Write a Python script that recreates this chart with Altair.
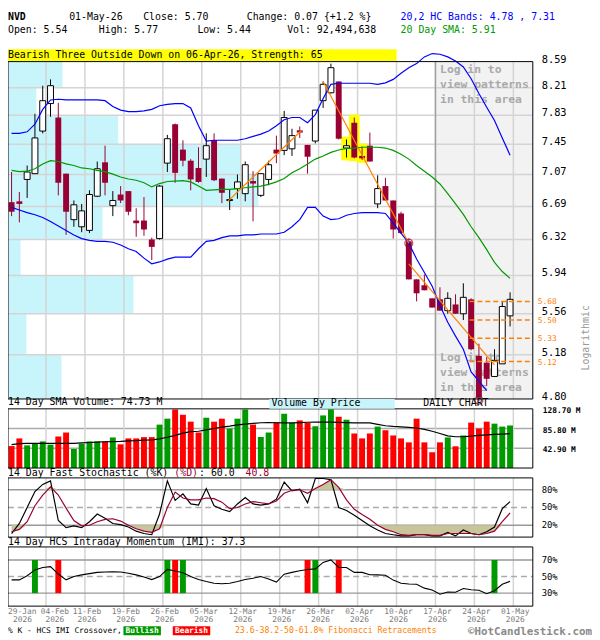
import altair as alt
import pandas as pd

# ---------------- data ----------------
dates = ["2026-01-29", "2026-01-30",
         "2026-02-02", "2026-02-03", "2026-02-04", "2026-02-05", "2026-02-06",
         "2026-02-09", "2026-02-10", "2026-02-11", "2026-02-12", "2026-02-13",
         "2026-02-17", "2026-02-18", "2026-02-19", "2026-02-20",
         "2026-02-23", "2026-02-24", "2026-02-25", "2026-02-26", "2026-02-27",
         "2026-03-02", "2026-03-03", "2026-03-04", "2026-03-05", "2026-03-06",
         "2026-03-09", "2026-03-10", "2026-03-11", "2026-03-12", "2026-03-13",
         "2026-03-16", "2026-03-17", "2026-03-18", "2026-03-19", "2026-03-20",
         "2026-03-23", "2026-03-24", "2026-03-25", "2026-03-26", "2026-03-27",
         "2026-03-30", "2026-03-31", "2026-04-01", "2026-04-02",
         "2026-04-06", "2026-04-07", "2026-04-08", "2026-04-09", "2026-04-10",
         "2026-04-13", "2026-04-14", "2026-04-15", "2026-04-16", "2026-04-17",
         "2026-04-20", "2026-04-21", "2026-04-22", "2026-04-23", "2026-04-24",
         "2026-04-27", "2026-04-28", "2026-04-29", "2026-04-30", "2026-05-01"]

opens = [6.74, 6.75, 7.01, 7.08, 7.62, 7.99, 7.80, 7.08, 6.54, 6.46, 6.42, 6.81, 7.22, 6.70, 6.83, 6.87,
         6.53, 6.53, 6.32, 6.33, 7.21, 7.71, 7.38, 7.24, 7.15, 7.26, 7.50, 7.02, 6.76, 6.90, 6.84, 6.99,
         6.82, 7.01, 7.38, 7.37, 7.39, 7.63, 7.44, 7.49, 8.03, 8.14, 8.30, 7.40, 7.73, 7.30, 7.43, 6.72,
         6.93, 6.76, 6.61, 6.30, 5.90, 5.84, 5.71, 5.70, 5.59, 5.65, 5.56, 5.70, 5.17, 5.11, 4.99, 5.10, 5.54]
highs = [7.10, 6.86, 7.18, 7.85, 8.24, 8.33, 8.00, 7.08, 6.76, 6.72, 6.88, 7.23, 7.43, 6.87, 6.93, 6.87,
         6.67, 6.80, 6.34, 6.94, 7.57, 7.72, 7.50, 7.26, 7.41, 7.59, 7.59, 7.02, 6.89, 7.07, 7.23, 7.11,
         7.08, 7.24, 7.56, 7.89, 7.65, 7.68, 7.44, 7.90, 8.30, 8.56, 8.30, 7.51, 7.80, 7.42, 7.60, 7.06,
         7.03, 6.76, 6.63, 6.33, 5.90, 5.95, 5.71, 5.82, 5.77, 5.75, 5.86, 5.71, 5.28, 5.16, 5.23, 5.68, 5.77]
lows = [6.58, 6.51, 6.79, 7.08, 7.59, 7.81, 6.82, 6.37, 6.46, 6.40, 6.39, 6.80, 6.82, 6.58, 6.73, 6.59,
        6.35, 6.36, 6.10, 6.32, 7.10, 6.97, 7.17, 6.88, 6.97, 7.04, 6.99, 6.73, 6.65, 6.78, 6.75, 6.52,
        6.80, 6.94, 7.21, 7.31, 7.30, 7.53, 7.08, 7.46, 7.93, 8.13, 7.51, 7.28, 7.27, 7.25, 7.23, 6.67,
        6.76, 6.33, 6.38, 5.90, 5.68, 5.79, 5.62, 5.59, 5.56, 5.56, 5.50, 5.22, 4.78, 4.91, 4.99, 5.10, 5.44]
closes = [6.63, 6.72, 7.10, 7.53, 8.03, 8.24, 6.97, 6.63, 6.71, 6.64, 6.83, 7.14, 6.97, 6.76, 6.76, 6.63,
          6.50, 6.43, 6.24, 6.93, 7.52, 7.09, 7.24, 7.01, 6.98, 7.43, 7.00, 6.85, 6.77, 6.98, 7.19, 6.96,
          7.08, 7.19, 7.33, 7.80, 7.56, 7.60, 7.29, 7.90, 8.26, 8.50, 7.52, 7.43, 7.28, 7.27, 7.23, 6.90,
          6.76, 6.43, 6.39, 5.90, 5.76, 5.79, 5.62, 5.59, 5.71, 5.56, 5.72, 5.23, 4.81, 4.97, 5.13, 5.63, 5.70]
volumes_m = [47.8, 64.4, 49.3, 53.6, 57.9, 50.8, 68.6, 77.2, 41.5, 52.9, 57.9, 57.9, 57.9, 66.5, 51.5, 64.4,
             64.4, 67.2, 67.2, 94.4, 107.3, 127.3, 115.8, 100.8, 77.2, 109.4, 100.8, 107.3, 85.8, 107.3,
             127.3, 94.4, 67.2, 77.2, 99.3, 118.0, 98.0, 103.6, 98.0, 90.8, 114.4, 127.3, 111.5, 105.1,
             75.1, 64.4, 75.1, 90.1, 82.2, 70.8, 64.4, 55.8, 107.3, 55.8, 34.3, 55.8, 66.5, 47.2, 70.8,
             98.7, 85.8, 100.8, 96.5, 90.1, 92.5]
volume_sma_m = [51, 53, 53.6, 53.6, 53.6, 53.6, 53.6, 53.6, 53.6, 54.5, 55.5, 56.5, 57.2, 57.5, 58, 59,
                59.5, 60.5, 61, 63.5, 67, 71, 76, 79, 80, 83, 86, 89, 91, 94, 95.5, 97, 98.5, 98.7, 98.5,
                98.2, 98, 98.8, 99.5, 100, 100.1, 99.7, 99.2, 98.7, 98.2, 98, 98, 95, 92, 90.5, 89.5, 88.5,
                87, 84, 80, 75, 70, 68, 68, 69.5, 71, 72, 73, 73.8, 74.73]
band_upper = [7.59, 7.59, 7.61, 7.71, 7.91, 8.04, 8.05, 8.04, 8.04, 8.04, 8.04, 8.04, 8.03, 7.95, 7.90, 7.88,
              7.88, 7.89, 7.91, 7.96, 7.98, 7.99, 7.99, 7.93, 7.69, 7.49, 7.50, 7.50, 7.50, 7.50, 7.52, 7.55,
              7.58, 7.62, 7.69, 7.77, 7.80, 7.80, 7.73, 7.84, 8.06, 8.26, 8.275, 8.275, 8.275, 8.275, 8.275,
              8.26, 8.28, 8.33, 8.42, 8.50, 8.56, 8.66, 8.71, 8.70, 8.66, 8.60, 8.51, 8.34, 8.13, 7.94, 7.76,
              7.53, 7.31]
band_lower = [6.68, 6.65, 6.62, 6.595, 6.565, 6.52, 6.47, 6.42, 6.37, 6.33, 6.31, 6.30, 6.30, 6.29, 6.26, 6.22,
              6.19, 6.12, 6.06, 6.08, 6.11, 6.13, 6.13, 6.13, 6.22, 6.30, 6.31, 6.34, 6.36, 6.36, 6.37, 6.37,
              6.38, 6.38, 6.38, 6.40, 6.46, 6.54, 6.68, 6.68, 6.58, 6.54, 6.55, 6.59, 6.61, 6.62, 6.62, 6.62,
              6.61, 6.50, 6.39, 6.28, 6.11, 5.97, 5.83, 5.64, 5.48, 5.35, 5.23, 5.03, 4.95, 4.87]
sma20 = [7.12, 7.105, 7.11, 7.14, 7.20, 7.24, 7.23, 7.20, 7.18, 7.15, 7.14, 7.12, 7.105, 7.075, 7.04, 7.015,
         7.00, 6.97, 6.92, 6.96, 6.985, 6.99, 6.995, 6.98, 6.93, 6.88, 6.885, 6.89, 6.89, 6.90, 6.91, 6.92,
         6.93, 6.95, 6.98, 7.02, 7.09, 7.14, 7.20, 7.26, 7.30, 7.345, 7.375, 7.395, 7.40, 7.41, 7.41, 7.41,
         7.40, 7.37, 7.32, 7.26, 7.18, 7.11, 7.04, 6.955, 6.84, 6.72, 6.60, 6.46, 6.34, 6.21, 6.075, 5.98, 5.91]
stoch_k = [6, 23, 50, 77, 89, 95, 28, 16, 19, 16, 26, 39, 32, 23, 21, 17, 10, 6, 4, 39, 95, 62, 73, 56, 54,
           82, 53, 47, 43, 56, 67, 56, 54, 56, 64, 93, 78, 81, 58, 99, 99, 97, 50, 45, 37, 28, 19, 12, 6, 4,
           2, 2, 4, 4, 2, 2, 8, 2, 12, 6, 4, 9, 17, 48, 60]
stoch_d = [9, 13, 26, 53, 71, 85, 71, 49, 28, 19, 20, 26, 30, 31, 27, 20, 14, 10, 8, 14, 50, 76, 66, 63, 63,
           66, 65, 59, 48, 50, 56, 60, 58, 56, 61, 74, 79, 80, 74, 82, 89, 97, 84, 63, 47, 38, 30, 20, 13, 9,
           4, 3, 4, 4, 3, 3, 6, 6, 6, 6, 4, 6, 10, 26, 40.8]
imi = [46, 46, 51, 58, 61, 62, 53, 46, 50, 52, 53.5, 55, 55.5, 55.7, 55.5, 54, 52, 49.5, 46.3, 50, 58.6,
       56.6, 54.5, 50, 46.5, 44, 42, 41.4, 42, 44, 46.5, 48, 50, 47, 43.4, 52.9, 55, 57, 58.5, 59.2, 67, 70,
       61, 61, 55, 55, 52.2, 52, 51.5, 45.7, 42, 41, 40.6, 36, 33.7, 28.6, 31.4, 31, 35.5, 34, 33.5, 29.2,
       32.9, 40.6, 44.3]
imi_bullish = [3, 20, 22, 39, 62]
imi_bearish = [6, 21, 38, 42]
pattern_days = [43, 44, 45]
pivot_days = [51, 60]
pivot_prices = [6.28, 4.79]
trend_seg = ["a", "a", "b", "b", "c", "c"]
trend_day = [27.75, 37.25, 40.0, 51.0, 51.0, 62.0]
trend_price = [6.75, 7.63, 8.30, 6.28, 6.06, 5.09]
fib_levels = [5.68, 5.50, 5.33, 5.12]
fib_from_day = 58.8
price_ticks = [8.59, 8.21, 7.83, 7.45, 7.07, 6.69, 6.32, 5.94, 5.56, 5.18, 4.80]
vbp_pct = [10.2, 3.5, 23.9, 2.4, 18.0, 47.7, 44.2, 21.0, 5.4, 10.4]  # lowest price band first
vol_ticks = [128.7, 85.8, 42.9]
stoch_ticks = [80, 50, 20]
imi_ticks = [70, 50, 30]

n = len(closes)
assert all(len(a) == n for a in [dates, opens, highs, lows, volumes_m, volume_sma_m, band_upper, sma20,
                                  stoch_k, stoch_d, imi])

# ---------------- layout ----------------
MONO = "DejaVu Sans Mono"
MAROON = "#990033"
ORANGE = "#ff8000"
W, H = 592, 632
KDOM = [-0.458, 66.92]
XR = [0, 532]
PDOM, PR = [4.80, 8.59], [392, 50]
VDOM, VR = [0, 128.7], [462, 402]
SDOM, SR = [0, 100], [532, 472]
IDOM, IR = [14.3, 85.7], [602, 542]
BLANK = alt.Data(values=[{"a": 0}])


def X(f):
    return alt.X(f, type="quantitative", axis=None,
                 scale=alt.Scale(domain=KDOM, range=XR, nice=False, zero=False))


def Yq(f, dom, rng, log=False):
    return alt.Y(f, type="quantitative", axis=None,
                 scale=alt.Scale(type="log" if log else "linear", domain=dom, range=rng, nice=False, zero=False))


def YP(f):
    return Yq(f, PDOM, PR, log=True)


def YV(f):
    return Yq(f, VDOM, VR)


def YS(f):
    return Yq(f, SDOM, SR)


def YI(f):
    return Yq(f, IDOM, IR)


def T(s, x, y, size=10, color="black", align="left", baseline="middle", weight="normal", angle=0):
    return alt.Chart(BLANK).mark_text(align=align, baseline=baseline, fontSize=size, color=color,
                                      fontWeight=weight, angle=angle, font=MONO).encode(
        x=alt.value(x), y=alt.value(y), text=alt.value(s))


def BOX(x0, x1, y0, y1, fill):
    return alt.Chart(BLANK).mark_rect(color=fill).encode(
        x=alt.value(x0), x2=alt.value(x1), y=alt.value(y0), y2=alt.value(y1))


week_idx = list(range(4, n, 5))
grid_k = [i + 0.42 for i in week_idx]
login_from = grid_k[10]

cdf = pd.DataFrame({"k": range(n), "open": opens, "high": highs, "low": lows, "close": closes,
                    "vol": volumes_m, "vsma": volume_sma_m, "up": [c >= o for o, c in zip(opens, closes)]})
gdf = pd.DataFrame({"k": grid_k})
asc = price_ticks[::-1]
vbp_df = pd.DataFrame({"lo": asc[:-1], "hi": asc[1:], "pct": vbp_pct})
ptick_df = pd.DataFrame({"p": price_ticks, "lab": [f"{p:.2f}" for p in price_ticks]})

layers = []

def yrange_calc(chart, dom):
    return chart.transform_calculate(y0=str(dom[0]), y1=str(dom[1]))

# ---- price panel ----
layers.append(alt.Chart(alt.Data(values=[{"k0": login_from, "k1": KDOM[1], "p0": PDOM[0], "p1": PDOM[1]}]))
              .mark_rect(color="#f2f2f2").encode(x=X("k0"), x2=alt.X2("k1"), y=YP("p0"), y2=alt.Y2("p1")))
layers.append(alt.Chart(vbp_df).transform_calculate(z="0").mark_rect(color="#c8f4fb").encode(
    x=alt.X("z", type="quantitative", axis=None,
            scale=alt.Scale(domain=[0, 100], range=XR, nice=False, zero=False)),
    x2=alt.X2("pct"), y=YP("lo"), y2=alt.Y2("hi")))
layers.append(alt.Chart(ptick_df[1:-1]).transform_calculate(a=str(KDOM[0]), b=str(KDOM[1]))
              .mark_rule(color="#d4d4d4", strokeWidth=1.5).encode(x=X("a"), x2=alt.X2("b"), y=YP("p")))
layers.append(yrange_calc(alt.Chart(gdf), PDOM).mark_rule(color="#d4d4d4", strokeWidth=1.5).encode(
    x=X("k"), y=YP("y0"), y2=alt.Y2("y1")))
layers.append(yrange_calc(alt.Chart(pd.DataFrame({"k": [login_from]})), PDOM)
              .mark_rule(color="#a0a0a0", strokeWidth=1.5).encode(x=X("k"), y=YP("y0"), y2=alt.Y2("y1")))
for yy in (53, 345):
    layers.append(alt.Chart(BLANK).mark_text(align="left", baseline="top", fontSize=11.5, font=MONO,
                                             fontWeight="bold", color="#a9a9a9", lineBreak="\n",
                                             lineHeight=15).encode(
        x=alt.value(438), y=alt.value(yy), text=alt.value("Log in to\nview patterns\nin this area")))

hl = cdf[cdf.k.isin(pattern_days)]
layers.append(alt.Chart(hl).transform_calculate(a="datum.k-0.68", b="datum.k+0.68",
                                                lo="datum.low*0.995", hi="datum.high*1.005")
              .mark_rect(color="#ffff00").encode(x=X("a"), x2=alt.X2("b"), y=YP("lo"), y2=alt.Y2("hi")))

cb = alt.Chart(cdf).transform_calculate(kl="datum.k-0.38", kr="datum.k+0.38")
layers.append(cb.transform_filter("datum.up").mark_rule(color="black", strokeWidth=1).encode(
    x=X("k"), y=YP("low"), y2=alt.Y2("high")))
layers.append(cb.transform_filter("!datum.up").mark_rule(color=MAROON, strokeWidth=1).encode(
    x=X("k"), y=YP("low"), y2=alt.Y2("high")))
layers.append(cb.transform_filter("datum.up").mark_rect(fill="white", stroke="black", strokeWidth=1).encode(
    x=X("kl"), x2=alt.X2("kr"), y=YP("open"), y2=alt.Y2("close")))
layers.append(cb.transform_filter("!datum.up").mark_rect(color=MAROON).encode(
    x=X("kl"), x2=alt.X2("kr"), y=YP("open"), y2=alt.Y2("close")))

layers.append(alt.Chart(pd.DataFrame({"k": range(n), "v": band_upper})).mark_line(color="#0000ff", strokeWidth=1.2)
              .encode(x=X("k"), y=YP("v")))
layers.append(alt.Chart(pd.DataFrame({"k": range(len(band_lower)), "v": band_lower}))
              .mark_line(color="#0000ff", strokeWidth=1.2).encode(x=X("k"), y=YP("v")))
layers.append(alt.Chart(pd.DataFrame({"k": range(n), "v": sma20})).mark_line(color="#009900", strokeWidth=1.2)
              .encode(x=X("k"), y=YP("v")))
layers.append(alt.Chart(pd.DataFrame({"seg": trend_seg, "k": trend_day, "p": trend_price}))
              .mark_line(color=ORANGE, strokeWidth=1.2).encode(x=X("k"), y=YP("p"), detail="seg"))
layers.append(alt.Chart(pd.DataFrame({"p": fib_levels})).transform_calculate(a=str(fib_from_day), b=str(KDOM[1]))
              .mark_rule(color=ORANGE, strokeWidth=1.5, strokeDash=[5, 3]).encode(x=X("a"), x2=alt.X2("b"), y=YP("p")))
layers.append(alt.Chart(pd.DataFrame({"k": pivot_days, "p": pivot_prices}))
              .mark_point(shape="circle", filled=False, color=MAROON, size=65, strokeWidth=1.2)
              .encode(x=X("k"), y=YP("p")))
layers.append(yrange_calc(alt.Chart(BLANK), PDOM).transform_calculate(a=str(KDOM[0]), b=str(KDOM[1]))
              .mark_rect(fillOpacity=0, stroke="black", strokeWidth=1).encode(
    x=X("a"), x2=alt.X2("b"), y=YP("y0"), y2=alt.Y2("y1")))
layers.append(alt.Chart(ptick_df).mark_text(align="left", baseline="alphabetic", dy=1, fontSize=10.5,
                                            font=MONO, color="black").encode(
    x=alt.value(541), y=YP("p"), text="lab:N"))
layers.append(alt.Chart(pd.DataFrame({"p": fib_levels, "lab": [f"{v:.2f}" for v in fib_levels]}))
              .mark_text(align="left", baseline="middle", dy=1, fontSize=8, font=MONO, color=ORANGE).encode(
    x=alt.value(537), y=YP("p"), text="lab:N"))
layers.append(T("Logarithmic", 586, 330, size=10, color="#999999", align="center", angle=270))

# ---- header ----
layers += [
    T("NVD", 0, 5, weight="bold"),
    T("01-May-26", 62, 5),
    T("Close: 5.70", 137, 5),
    T("Change: 0.07 {+1.2 %}", 242, 5),
    T("20,2 HC Bands: 4.78 , 7.31", 398, 5, color="#0000ff"),
    T("Open: 5.54", 0, 18),
    T("High: 5.77", 92, 18),
    T("Low: 5.44", 192, 18),
    T("Vol: 92,494,638", 283, 18),
    T("20 Day SMA: 5.91", 398, 18, color="#009900"),
    BOX(0, 394, 37.5, 49.5, "#ffff00"),
    T("Bearish Three Outside Down on 06-Apr-26, Strength: 65", 0, 43.5),
]

# ---- volume panel ----
layers.append(alt.Chart(pd.DataFrame({"v": vol_ticks[1:]})).transform_calculate(a=str(KDOM[0]), b=str(KDOM[1]))
              .mark_rule(color="#aaaaaa", strokeWidth=1.5).encode(x=X("a"), x2=alt.X2("b"), y=YV("v")))
layers.append(yrange_calc(alt.Chart(gdf), VDOM).mark_rule(color="#d4d4d4", strokeWidth=1.5).encode(
    x=X("k"), y=YV("y0"), y2=alt.Y2("y1")))
vb = alt.Chart(cdf).transform_calculate(kl="datum.k-0.38", kr="datum.k+0.38", z="0")
layers.append(vb.transform_filter("datum.up").mark_rect(color="#009900").encode(
    x=X("kl"), x2=alt.X2("kr"), y=YV("z"), y2=alt.Y2("vol")))
layers.append(vb.transform_filter("!datum.up").mark_rect(color="#ff0000").encode(
    x=X("kl"), x2=alt.X2("kr"), y=YV("z"), y2=alt.Y2("vol")))
layers.append(alt.Chart(cdf).mark_line(color="black", strokeWidth=1.2).encode(x=X("k"), y=YV("vsma")))
layers.append(yrange_calc(alt.Chart(BLANK), VDOM).transform_calculate(a=str(KDOM[0]), b=str(KDOM[1]))
              .mark_rect(fillOpacity=0, stroke="black", strokeWidth=1).encode(
    x=X("a"), x2=alt.X2("b"), y=YV("y0"), y2=alt.Y2("y1")))
layers.append(alt.Chart(pd.DataFrame({"v": vol_ticks, "lab": [f"{v:.2f} M" for v in vol_ticks]}))
              .mark_text(align="left", baseline="middle", dy=2, fontSize=8, font=MONO, fontWeight="bold")
              .encode(x=alt.value(542), y=YV("v"), text="lab:N"))
layers += [
    T("14 Day SMA Volume: 74.73 M", 0, 395),
    BOX(265, 392, 392, 402, "#c8f4fb"),
    T("Volume By Price", 267, 396.5),
    T("DAILY CHART", 454, 396, align="center"),
]

# ---- stochastic panel ----
sdf = pd.DataFrame({"k": range(n), "K": stoch_k, "D": stoch_d})
layers.append(yrange_calc(alt.Chart(gdf), SDOM).mark_rule(color="#d4d4d4", strokeWidth=1.5).encode(
    x=X("k"), y=YS("y0"), y2=alt.Y2("y1")))
st = pd.DataFrame({"v": stoch_ticks, "dash": [v == 50 for v in stoch_ticks]})
layers.append(alt.Chart(st[~st.dash]).transform_calculate(a=str(KDOM[0]), b=str(KDOM[1]))
              .mark_rule(color="#999999", strokeWidth=1.5).encode(x=X("a"), x2=alt.X2("b"), y=YS("v")))
layers.append(alt.Chart(st[st.dash]).transform_calculate(a=str(KDOM[0]), b=str(KDOM[1]))
              .mark_rule(color="#aaaaaa", strokeWidth=1.5, strokeDash=[6, 4]).encode(x=X("a"), x2=alt.X2("b"), y=YS("v")))
layers.append(alt.Chart(sdf).transform_calculate(a="min(datum.D, 20)", b="20").mark_area(color="#c9c59a")
              .encode(x=X("k"), y=YS("a"), y2=alt.Y2("b")))
layers.append(alt.Chart(sdf).transform_calculate(a="max(datum.D, 80)", b="80").mark_area(color="#c9c59a")
              .encode(x=X("k"), y=YS("a"), y2=alt.Y2("b")))
layers.append(alt.Chart(sdf).mark_line(color="black", strokeWidth=1.2).encode(x=X("k"), y=YS("K")))
layers.append(alt.Chart(sdf).mark_line(color=MAROON, strokeWidth=1.2).encode(x=X("k"), y=YS("D")))
layers.append(yrange_calc(alt.Chart(BLANK), SDOM).transform_calculate(a=str(KDOM[0]), b=str(KDOM[1]))
              .mark_rect(fillOpacity=0, stroke="black", strokeWidth=1).encode(
    x=X("a"), x2=alt.X2("b"), y=YS("y0"), y2=alt.Y2("y1")))
layers.append(alt.Chart(pd.DataFrame({"v": stoch_ticks, "lab": [f"{v}%" for v in stoch_ticks]}))
              .mark_text(align="left", baseline="middle", fontSize=9, font=MONO).encode(
    x=alt.value(541), y=YS("v"), text="lab:N"))
CW = 6.02
layers += [
    T("14 Day Fast Stochastic (%K)", 0, 467.5),
    T("(%D)", 28 * CW, 467.5, color=MAROON),
    T(": 60.0", 32 * CW + 1, 467.5),
    T("40.8", 40 * CW, 467.5, color=MAROON),
]

# ---- IMI panel ----
layers.append(yrange_calc(alt.Chart(gdf), IDOM).mark_rule(color="#d4d4d4", strokeWidth=1.5).encode(
    x=X("k"), y=YI("y0"), y2=alt.Y2("y1")))
it = pd.DataFrame({"v": imi_ticks, "dash": [v == 50 for v in imi_ticks]})
layers.append(alt.Chart(it[~it.dash]).transform_calculate(a=str(KDOM[0]), b=str(KDOM[1]))
              .mark_rule(color="#999999", strokeWidth=1.5).encode(x=X("a"), x2=alt.X2("b"), y=YI("v")))
layers.append(alt.Chart(it[it.dash]).transform_calculate(a=str(KDOM[0]), b=str(KDOM[1]))
              .mark_rule(color="#aaaaaa", strokeWidth=1.5, strokeDash=[6, 4]).encode(x=X("a"), x2=alt.X2("b"), y=YI("v")))
xdf = pd.DataFrame({"k": imi_bullish + imi_bearish,
                    "kind": ["Bullish"] * len(imi_bullish) + ["Bearish"] * len(imi_bearish)})
xb = alt.Chart(xdf).transform_calculate(kl="datum.k-0.38", kr="datum.k+0.38",
                                        lo=str(imi_ticks[2]), hi=str(imi_ticks[0]))
layers.append(xb.transform_filter("datum.kind == 'Bullish'").mark_rect(color="#009900").encode(
    x=X("kl"), x2=alt.X2("kr"), y=YI("lo"), y2=alt.Y2("hi")))
layers.append(xb.transform_filter("datum.kind == 'Bearish'").mark_rect(color="#ff0000").encode(
    x=X("kl"), x2=alt.X2("kr"), y=YI("lo"), y2=alt.Y2("hi")))
layers.append(alt.Chart(pd.DataFrame({"k": range(n), "v": imi})).mark_line(color="black", strokeWidth=1.1)
              .encode(x=X("k"), y=YI("v")))
layers.append(yrange_calc(alt.Chart(BLANK), IDOM).transform_calculate(a=str(KDOM[0]), b=str(KDOM[1]))
              .mark_rect(fillOpacity=0, stroke="black", strokeWidth=1).encode(
    x=X("a"), x2=alt.X2("b"), y=YI("y0"), y2=alt.Y2("y1")))
layers.append(alt.Chart(pd.DataFrame({"v": imi_ticks, "lab": [f"{v}%" for v in imi_ticks]}))
              .mark_text(align="left", baseline="middle", fontSize=9, font=MONO).encode(
    x=alt.value(541), y=YI("v"), text="lab:N"))
layers.append(T("14 Day HCS Intraday Momentum (IMI): 37.3", 0, 537.5))

# ---- date labels ----
DATE_FS = 8
lab_df = pd.DataFrame({"k": grid_k,
                       "l1": [pd.Timestamp(dates[i]).strftime("%d-%b") for i in week_idx],
                       "l2": [pd.Timestamp(dates[i]).strftime("%Y") for i in week_idx]})
for fld, yy in (("l1", 607.5), ("l2", 616)):
    # first week label is nudged right to clear the first-day label, as in the reference
    layers.append(alt.Chart(lab_df.iloc[1:]).mark_text(align="center", baseline="middle", dx=2, fontSize=DATE_FS,
                                                       font=MONO, color="#7a7a7a").encode(
        x=X("k"), y=alt.value(yy), text=f"{fld}:N"))
    layers.append(alt.Chart(lab_df.iloc[:1]).mark_text(align="center", baseline="middle", dx=9, fontSize=DATE_FS,
                                                       font=MONO, color="#7a7a7a").encode(
        x=X("k"), y=alt.value(yy), text=f"{fld}:N"))
first = pd.Timestamp(dates[0])
layers.append(T(first.strftime("%d-%b"), 0, 607.5, size=DATE_FS, color="#7a7a7a"))
layers.append(T(first.strftime("%Y"), 5, 616, size=DATE_FS, color="#7a7a7a"))

# ---- footer ----
layers += [
    T("% K - HCS IMI Crossover, ", 0, 627, size=8),
    BOX(117, 155, 622.5, 631.5, "#009900"),
    T("Bullish", 136, 627, size=8, color="white", align="center", weight="bold"),
    BOX(167, 205, 622.5, 631.5, "#ff0000"),
    T("Bearish", 186, 627, size=8, color="white", align="center", weight="bold"),
    T("23.6-38.2-50-61.8% Fibonacci Retracements", 230, 627, size=8.3, color=ORANGE),
    T("\u00a9HotCandlestick.com", 592, 628.5, size=11, color="#8a8a8a", align="right", weight="bold"),
]

chart = (alt.layer(*layers)
         .resolve_scale(x="independent", y="independent")
         .properties(width=W, height=H, autosize=alt.AutoSizeParams(type="none"), padding=0,
                     background="white")
         .configure_view(stroke=None))

chart.save("out.html", embed_options={"renderer": "svg", "actions": False})
